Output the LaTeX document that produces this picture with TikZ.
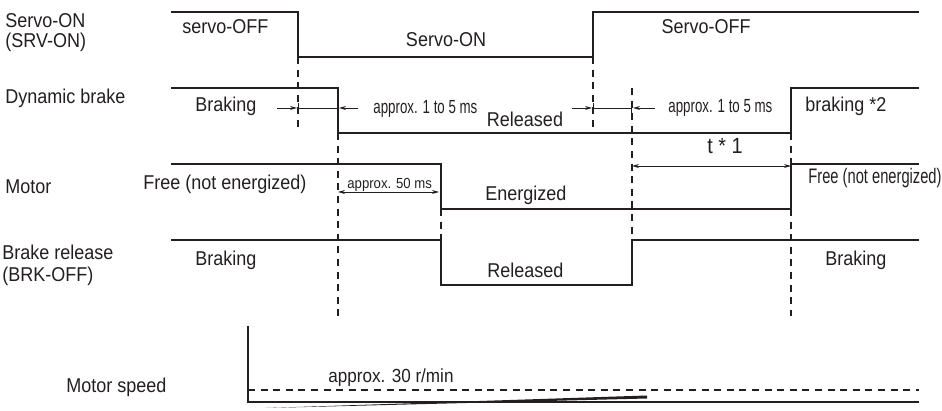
\documentclass[tikz,border=0pt]{standalone}
\usepackage{fontspec}
\setmainfont{Liberation Sans}[FakeStretch=0.9]
\newfontfamily\condsf{Liberation Sans}[FakeStretch=0.7]
\usetikzlibrary{arrows.meta}
\definecolor{ink}{RGB}{35,31,32}
\tikzset{
  sig/.style={line width=0.7pt, draw=ink},
  guide/.style={line width=0.6pt, draw=ink, dash pattern=on 3.5pt off 2.8pt},
  dim/.style={line width=0.45pt, draw=ink, >={Stealth[length=3.5pt, width=2pt]}},
  lbl/.style={inner sep=0pt, anchor=base west, text=ink, font=\fontsize{10}{12}\selectfont},
  cond/.style={lbl, font=\condsf\fontsize{9.5}{11}\selectfont},
}
\begin{document}
\begin{tikzpicture}[x=0.5pt, y=-0.5pt]
  \useasboundingbox (0,0) rectangle (942,411);
  % signal names
  \node[lbl] (srvon) at (5,28) {Servo-ON};
  \node[lbl] (srvonb) at (5,48) {(SRV-ON)};
  \node[lbl] (dynbrk) at (5,104) {Dynamic brake};
  \node[lbl] (motor) at (5,194) {Motor};
  \node[lbl] (brkrel) at (2,260) {Brake release};
  \node[lbl] (brkrelb) at (2,282) {(BRK-OFF)};
  \node[lbl] (mspeed) at (66,392) {Motor speed};
  % servo-on signal
  \draw[sig] (171,12) -- (298,12) -- (298,57) -- (593,57) -- (593,12) -- (919,12);
  \node[lbl] (soffa) at (182,34) {servo-OFF};
  \node[lbl, anchor=base] (son) at (446,47) {Servo-ON};
  \node[lbl, anchor=base] (soffb) at (706,34) {Servo-OFF};
  % dynamic brake
  \draw[sig] (171,88) -- (338,88) -- (338,133) -- (791,133) -- (791,88) -- (919,88);
  \node[lbl] (dbbrka) at (195,112) {Braking};
  \node[cond] (dbdlya) at (373,114) {approx. 1 to 5 ms};
  \node[lbl, anchor=base] (dbrel) at (525,127) {Released};
  \node[cond] (dbdlyb) at (668,113) {approx. 1 to 5 ms};
  \node[lbl] (dbbrkb) at (805,112) {braking *2};
  % motor
  \draw[sig] (171,164) -- (441,164) -- (441,209) -- (791,209) -- (791,164) -- (919,164);
  \node[lbl] (mfreea) at (143,190) {Free (not energized)};
  \node[lbl, font=\fontsize{7.3}{9}\selectfont] (mdly) at (347,189) {approx. 50 ms};
  \node[lbl] (menrg) at (485,201) {Energized};
  \node[cond, font=\condsf\fontsize{10.5}{12}\selectfont] (mfreeb) at (808,184) {Free (not energized)};
  % brake release
  \draw[sig] (171,240) -- (441,240) -- (441,285) -- (632,285) -- (632,240) -- (919,240);
  \node[lbl] (bbrka) at (195,265) {Braking};
  \node[lbl] (brel) at (487,278) {Released};
  \node[lbl] (bbrkb) at (825,265) {Braking};
  % motor speed
  \draw[sig] (248,326) -- (248,402) -- (919,402);
  \draw[guide] (248,390) -- (919,390);
  \fill[ink] (266,408) -- (647,395.5) -- (647,398.5) -- cycle;
  \node[lbl, font=\fontsize{9.5}{11}\selectfont] (slow) at (328,382) {approx. 30 r/min};
  % timing guides
  \draw[guide] (298,57) -- (298,130);
  \draw[guide] (338,133) -- (338,316);
  \draw[guide] (441,209) -- (441,240);
  \draw[guide] (593,57) -- (593,130);
  \draw[guide] (632,88) -- (632,240);
  \draw[guide] (791,133) -- (791,164);
  \draw[guide] (791,209) -- (791,316);
  % delay marks
  \draw[dim, ->] (277,108) -- (297,108);
  \draw[dim, {Bar[width=5pt]}-] (298,108) -- (338,108);
  \draw[dim, ->] (358,108) -- (339,108);
  \draw[dim, ->] (572,108) -- (592,108);
  \draw[dim, {Bar[width=5pt]}-{Bar[width=5pt]}] (593,108) -- (632,108);
  \draw[dim, ->] (655,108) -- (633,108);
  \draw[dim, <->] (632,166) -- (791,166);
  \node[lbl, anchor=base, font=\fontsize{11}{13}\selectfont] (tdly) at (725,154) {t * 1};
  \draw[dim, <->] (338,192) -- (439,192);
\end{tikzpicture}
\end{document}
